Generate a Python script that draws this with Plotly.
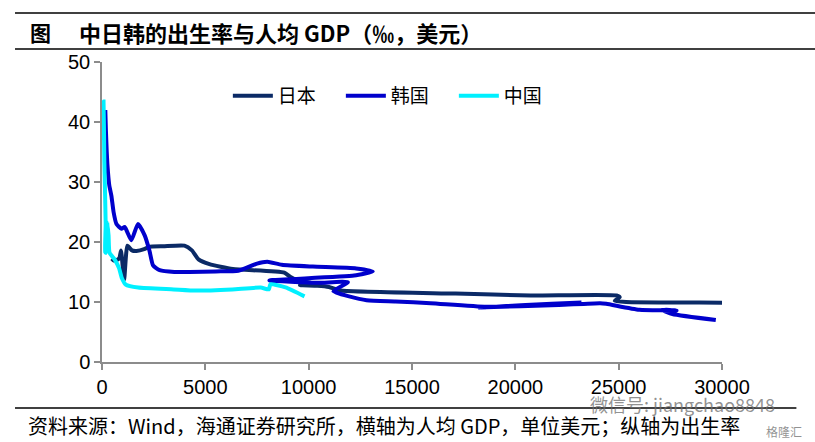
import plotly.graph_objects as go

# ---- Data ----
series_names = ["日本", "韩国", "中国"]

japan_gdp = [475, 563, 630, 720, 840, 920, 1070, 1230, 1450, 1670, 2040, 2270, 2970, 3990, 4350,
             4670, 5200, 6330, 8820, 9100, 9460, 10360, 9580, 10420, 10980, 11580, 17110, 20750,
             24900, 25050, 24810, 25360, 28900, 31400]
japan_birth = [17.2, 16.9, 17.0, 17.0, 17.3, 18.6, 13.7, 19.4, 18.6, 18.5, 18.8, 19.2, 19.3, 19.4, 18.6,
               17.1, 16.3, 15.5, 14.9, 14.2, 13.6, 13.0, 12.8, 12.7, 12.5, 11.9, 11.4, 11.1,
               11.1, 10.8, 10.2, 10.0, 9.9, 9.8]

korea_gdp = [160, 190, 230, 260, 290, 350, 455, 560, 700, 940, 1100, 1420, 1740, 2065, 2300, 2470,
             2790, 3500, 4240, 5500, 6600, 7500, 8000, 8700, 10200, 12300, 13100, 12200, 8100,
             10400, 11900, 11200, 12800, 14200, 15900, 18600, 20900, 23100, 20500, 18300, 22100,
             24100, 24400, 26000, 27800, 27100, 27600, 29700]
korea_birth = [42.0, 38.5, 35.0, 33.0, 31.6, 29.5, 27.7, 25.0, 23.0, 22.2, 22.5, 20.3, 23.0, 21.1, 18.5, 16.1,
               15.3, 15.0, 15.0, 15.1, 15.2, 16.4, 16.7, 16.2, 15.9, 15.6, 15.1, 14.4, 13.6,
               13.2, 13.3, 11.8, 10.3, 10.1, 9.8, 9.2, 9.4, 9.9, 9.5, 9.1, 9.5,
               9.8, 9.7, 8.7, 8.6, 8.7, 8.0, 7.0]

china_gdp = [70, 74, 98, 113, 178, 156, 195, 203, 294, 252, 318, 366, 610, 829, 959, 1149, 1753,
             3468, 4550, 6300, 7680, 8070, 8150, 8880, 9800]
china_birth = [37.0, 43.4, 38.0, 33.4, 23.0, 18.3, 18.2, 22.3, 21.0, 23.3, 21.1, 18.2, 17.1, 15.6, 14.0, 12.9, 12.4,
               12.1, 11.9, 12.1, 12.4, 12.1, 12.95, 12.43, 10.94]

x_ticks = [0, 5000, 10000, 15000, 20000, 25000, 30000]
y_ticks = [0, 10, 20, 30, 40, 50]

title_mark = "图"
title_text = "中日韩的出生率与人均 GDP（‰，美元）"
source_text = "资料来源：Wind，海通证券研究所，横轴为人均 GDP，单位美元；纵轴为出生率"
watermark_text = "微信号: jiangchao8848"
watermark2_text = "格隆汇"

colors = ["#0B2A66", "#0000CC", "#00F0FF"]

CJK = "Noto Sans CJK SC"
LAT = "Liberation Sans, Arial"

fig = go.Figure()
for name, xs, ys, c in zip(series_names,
                           [japan_gdp, korea_gdp, china_gdp],
                           [japan_birth, korea_birth, china_birth],
                           colors):
    fig.add_trace(go.Scatter(x=xs, y=ys, mode="lines", name=name,
                             line=dict(color=c, width=4, shape="spline", smoothing=0.5)))

axis_common = dict(showgrid=False, zeroline=False, showline=True, linecolor="#8c8c8c",
                   linewidth=1.5, ticks="outside", ticklen=6, tickcolor="#8c8c8c", tickwidth=1.5,
                   tickfont=dict(family=LAT, size=20, color="#000000"))

fig.update_xaxes(range=[0, 30000], tickvals=x_ticks, tickformat="d", **axis_common)
fig.update_yaxes(range=[0, 50], tickvals=y_ticks, **axis_common)

fig.update_layout(
    width=815, height=442,
    margin=dict(l=102, r=93, t=62, b=80),
    paper_bgcolor="white", plot_bgcolor="white",
    showlegend=True,
    legend=dict(orientation="h", x=0.203, y=0.887, xanchor="left", yanchor="middle",
                font=dict(family=CJK, size=19, color="#000000"),
                bgcolor="rgba(0,0,0,0)", entrywidth=58, entrywidthmode="pixels",
                itemwidth=40),
    shapes=[
        dict(type="line", xref="paper", yref="paper", x0=-0.1403, x1=1.16, y0=1.1633, y1=1.1633,
             line=dict(color="#000000", width=1.5)),
        dict(type="line", xref="paper", yref="paper", x0=-0.1403, x1=1.16, y0=1.0433, y1=1.0433,
             line=dict(color="#000000", width=1.5)),
        dict(type="line", xref="paper", yref="paper", x0=-0.1403, x1=1.12, y0=-0.1533, y1=-0.1533,
             line=dict(color="#000000", width=1.5)),
    ],
    annotations=[
        dict(text=title_mark, xref="paper", yref="paper", x=(28 - 102) / 620, y=1.1,
             xanchor="left", yanchor="middle", showarrow=False,
             font=dict(family=CJK, size=21, color="#000000", weight="bold")),
        dict(text=title_text, xref="paper", yref="paper", x=(77 - 102) / 620, y=1.1,
             xanchor="left", yanchor="middle", showarrow=False,
             font=dict(family=CJK, size=22, color="#000000", weight="bold")),
        dict(text=source_text, xref="paper", yref="paper", x=(26 - 102) / 620, y=-0.2133,
             xanchor="left", yanchor="middle", showarrow=False,
             font=dict(family=CJK, size=20, color="#000000")),
        dict(text=watermark_text, xref="paper", yref="paper", x=(588 - 102) / 620, y=(362 - 404) / 300,
             xanchor="left", yanchor="middle", showarrow=False,
             font=dict(family=CJK, size=18, color="rgba(110,110,110,0.75)")),
        dict(text=watermark2_text, xref="paper", yref="paper", x=(764 - 102) / 620, y=(362 - 431) / 300,
             xanchor="left", yanchor="middle", showarrow=False,
             font=dict(family=CJK, size=12, color="rgba(110,110,110,0.75)")),
    ],
)

fig.write_html("out.html", config={"displayModeBar": False},
               post_script="document.body.style.margin='0';document.body.style.overflow='hidden';")
